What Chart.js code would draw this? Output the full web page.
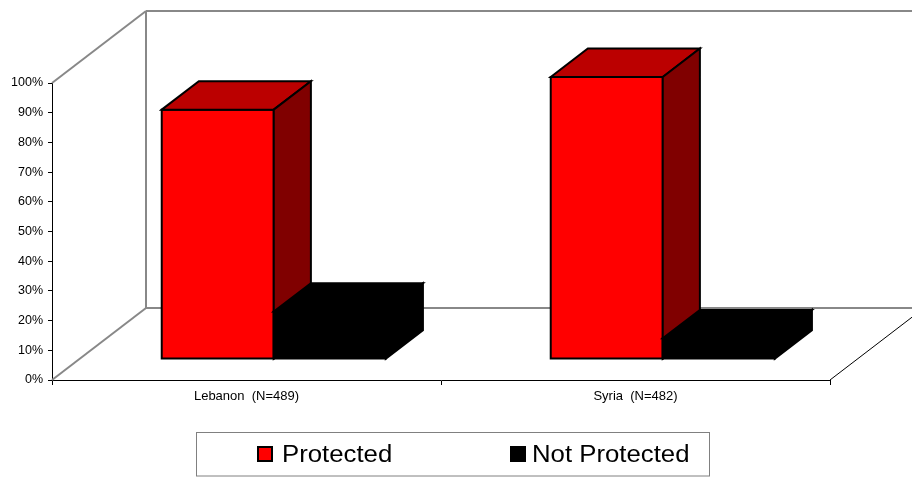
<!DOCTYPE html>
<html>
<head>
<meta charset="utf-8">
<script src="https://cdn.jsdelivr.net/npm/chart.js@4.4.0/dist/chart.umd.min.js"></script>
<style>
  html, body { margin: 0; padding: 0; background: #fff; }
</style>
</head>
<body>
<canvas id="myChart" width="912" height="477"></canvas>
<script>
var categories = ['Lebanon  (N=489)', 'Syria  (N=482)'];
var seriesNames = ['Protected', 'Not Protected'];
var protectedValues = [84, 95];
var notProtectedValues = [16, 7];
var yTickValues = [0, 10, 20, 30, 40, 50, 60, 70, 80, 90, 100];

// fake 3d: how far the back wall sits from the front plane
var DEPTH = { x: 94, y: -72 };
var BAR_FRONT = 0.29;   // bar front face, fraction of depth
var BAR_DEPTH = 0.395;  // bar thickness, fraction of depth
var FONT = "'Liberation Sans', Arial, sans-serif";

function line(ctx, x1, y1, x2, y2) {
  ctx.beginPath();
  ctx.moveTo(x1, y1);
  ctx.lineTo(x2, y2);
  ctx.stroke();
}

function poly(ctx, pts, fill, stroke) {
  ctx.beginPath();
  ctx.moveTo(pts[0][0], pts[0][1]);
  for (var i = 1; i < pts.length; i++) ctx.lineTo(pts[i][0], pts[i][1]);
  ctx.closePath();
  ctx.fillStyle = fill;
  ctx.fill();
  ctx.strokeStyle = stroke;
  ctx.stroke();
}

var box3d = {
  id: 'box3d',
  beforeDatasetsDraw: function (chart) {
    var ctx = chart.ctx;
    var a = chart.chartArea;
    var L = a.left, R = a.right, T = a.top, B = a.bottom;
    ctx.save();
    // walls and floor
    ctx.strokeStyle = '#888';
    ctx.lineWidth = 2;
    line(ctx, L, T, L + DEPTH.x, T + DEPTH.y);
    line(ctx, L + DEPTH.x, T + DEPTH.y, R + DEPTH.x, T + DEPTH.y);
    line(ctx, L + DEPTH.x, T + DEPTH.y, L + DEPTH.x, B + DEPTH.y);
    line(ctx, L, B, L + DEPTH.x, B + DEPTH.y);
    line(ctx, L + DEPTH.x, B + DEPTH.y, R + DEPTH.x, B + DEPTH.y);
    ctx.strokeStyle = '#000';
    ctx.lineWidth = 1;
    line(ctx, R, B, R + DEPTH.x, B + DEPTH.y);

    // bars: front, top, side, drawn left to right so the overlaps come out right
    var ox = DEPTH.x * BAR_FRONT, oy = DEPTH.y * BAR_FRONT;
    var dx = DEPTH.x * BAR_DEPTH, dy = DEPTH.y * BAR_DEPTH;
    ctx.lineWidth = 2;
    ctx.lineJoin = 'miter';
    for (var i = 0; i < categories.length; i++) {
      chart.data.datasets.forEach(function (ds, d) {
        var el = chart.getDatasetMeta(d).data[i];
        var l = el.x - el.width / 2 + ox, r = el.x + el.width / 2 + ox;
        var t = el.y + oy, b = el.base + oy;
        poly(ctx, [[l, t], [r, t], [r, b], [l, b]], ds.backgroundColor, ds.borderColor);
        poly(ctx, [[l, t], [l + dx, t + dy], [r + dx, t + dy], [r, t]], ds.topColor, ds.borderColor);
        poly(ctx, [[r, t], [r + dx, t + dy], [r + dx, b + dy], [r, b]], ds.sideColor, ds.borderColor);
      });
    }
    ctx.restore();
    return false;
  },
  afterDraw: function (chart) {
    // legend in a framed box
    var ctx = chart.ctx;
    ctx.save();
    ctx.strokeStyle = '#808080';
    ctx.lineWidth = 1;
    ctx.strokeRect(196.5, 432.5, 513, 43.5);
    var items = [{ x: 257, tx: 282 }, { x: 510, tx: 532 }];
    chart.data.datasets.forEach(function (ds, d) {
      var it = items[d];
      ctx.fillStyle = ds.backgroundColor;
      ctx.fillRect(it.x, 446, 16, 16);
      ctx.strokeStyle = '#000';
      ctx.lineWidth = 2;
      ctx.strokeRect(it.x + 1, 447, 14, 14);
      ctx.save();
      ctx.translate(it.tx, 462);
      ctx.scale(1.12, 1);
      ctx.fillStyle = '#000';
      ctx.font = '23px ' + FONT;
      ctx.textBaseline = 'alphabetic';
      ctx.fillText(ds.label, 0, 0);
      ctx.restore();
    });
    ctx.restore();
  }
};

var ctx = document.getElementById('myChart');
var myChart = new Chart(ctx, {
  type: 'bar',
  data: {
    labels: categories,
    datasets: [{
      label: seriesNames[0],
      data: protectedValues,
      backgroundColor: '#ff0000',
      topColor: '#bb0000',
      sideColor: '#800000',
      borderColor: '#000'
    }, {
      label: seriesNames[1],
      data: notProtectedValues,
      backgroundColor: '#000',
      topColor: '#000',
      sideColor: '#000',
      borderColor: '#000'
    }]
  },
  options: {
    responsive: false,
    animation: false,
    events: [],
    layout: { padding: { left: 0, top: 83, right: 82, bottom: 57 } },
    datasets: { bar: { barPercentage: 1, categoryPercentage: 0.576 } },
    plugins: { legend: { display: false }, tooltip: { enabled: false } },
    scales: {
      x: {
        offset: true,
        grid: { offset: true, drawOnChartArea: false, drawTicks: true, tickLength: 5, color: '#000' },
        border: { color: '#000', width: 1 },
        ticks: { color: '#000', font: { family: FONT, size: 13 }, padding: 4, maxRotation: 0 },
        afterFit: function (s) { s.height = 40; }
      },
      y: {
        min: 0,
        max: 100,
        afterBuildTicks: function (s) {
          s.ticks = yTickValues.map(function (v) { return { value: v }; });
        },
        grid: { drawOnChartArea: false, tickLength: 4, color: '#000' },
        border: { color: '#000', width: 1 },
        ticks: {
          color: '#000',
          font: { family: FONT, size: 12.5 },
          padding: 5,
          callback: function (v) { return v + '%'; }
        },
        afterFit: function (s) { s.width = 52; }
      }
    }
  },
  plugins: [box3d]
});
</script>
</body>
</html>
